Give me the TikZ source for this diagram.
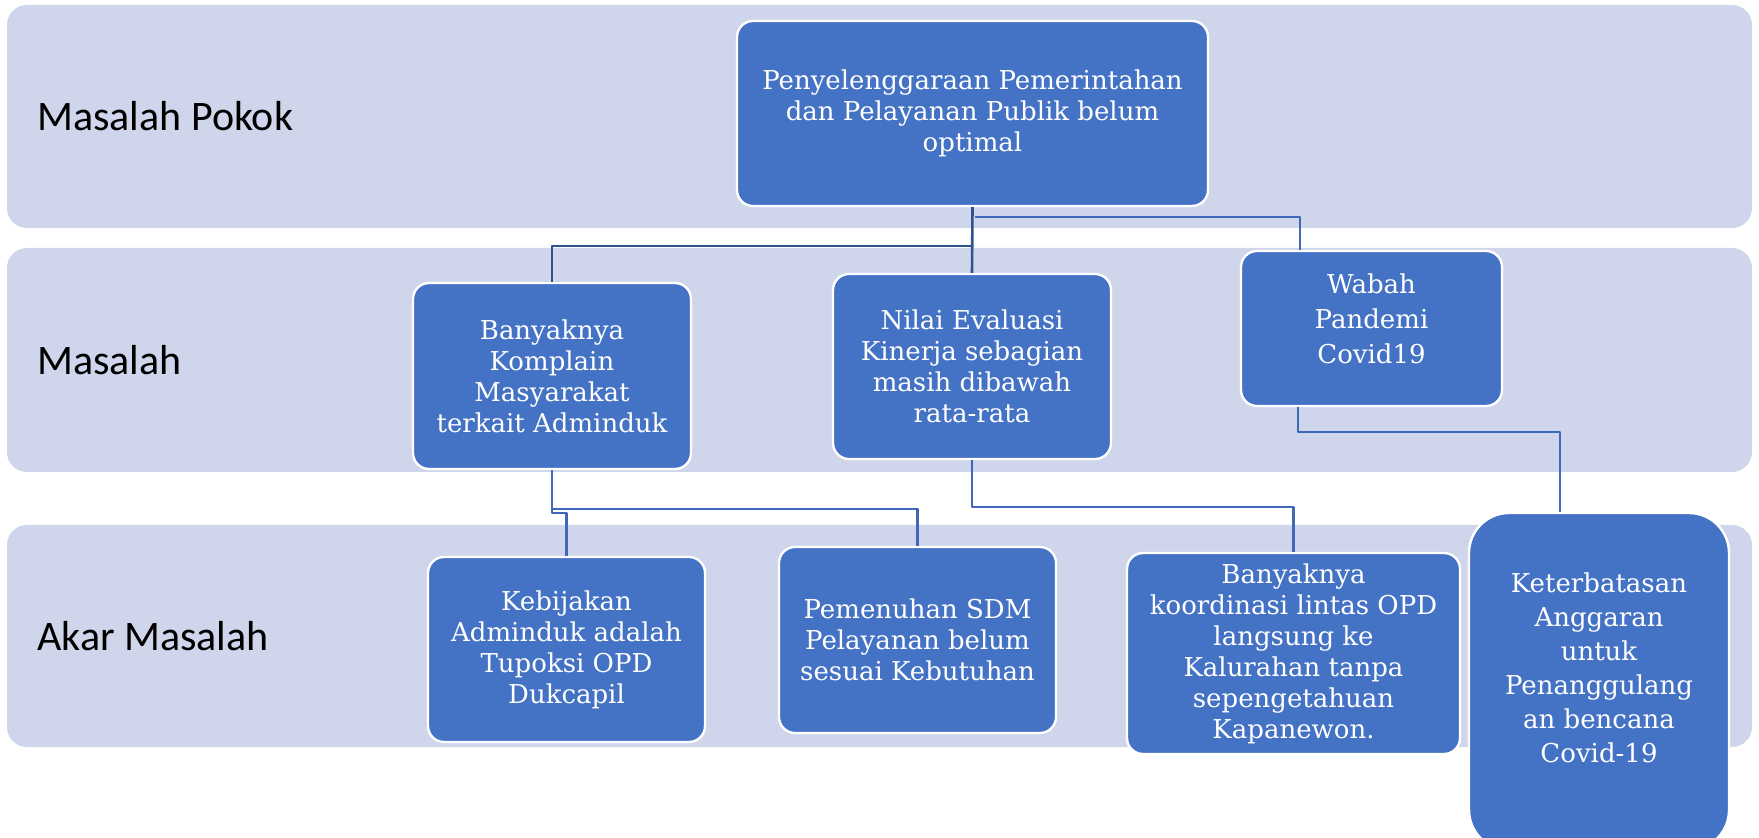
\documentclass[tikz,border=0pt]{standalone}
\usepackage{fontspec}
\setmainfont{DejaVu Serif}
\newfontfamily\labfont{Carlito}
\definecolor{bandgray}{HTML}{CFD5EA}
\definecolor{boxblue}{HTML}{4472C4}
\definecolor{linkblue}{HTML}{3F68B8}
\definecolor{linkdark}{HTML}{2F528F}

\begin{document}
\begin{tikzpicture}[line cap=round,line join=round,x=0.5pt,y=-0.5pt,
    probbox/.style={draw=white,line width=1.2pt,fill=boxblue,rounded corners=8pt,text=white,
      align=center,inner sep=2pt,font=\fontsize{13}{15.5}\selectfont},
    conn/.style={draw=linkblue,line width=1.3pt,line cap=butt}]
  \useasboundingbox (0,0) rectangle (1759,838);
  % bands
  \foreach \n/\t/\b/\lab in {1/5/228/Masalah Pokok,2/248/472/Masalah,3/525/747/Akar Masalah}{
    \fill[bandgray,rounded corners=10pt] (7,\t) rectangle (1752,\b);
    \node[anchor=west,inner sep=0pt,font=\labfont\fontsize{21}{25}\selectfont] (lab\n) at (37,{(\t+\b)/2}) {\lab};
  }
  % boxes
  \node[probbox,minimum width=235.5pt,minimum height=92.5pt] (pokok) at (972.5,113.5)
    {Penyelenggaraan Pemerintahan\\dan Pelayanan Publik belum\\optimal};
  \node[probbox,minimum width=139pt,minimum height=93pt] (komplain) at (552,376)
    {Banyaknya\\Komplain\\Masyarakat\\terkait Adminduk};
  \node[probbox,minimum width=139pt,minimum height=92.5pt] (nilai) at (972,366.5)
    {Nilai Evaluasi\\Kinerja sebagian\\masih dibawah\\rata-rata};
  \node[probbox,minimum width=130.5pt,minimum height=77.5pt,font=\fontsize{13}{17.5}\selectfont] (wabah) at (1371.5,328.5)
    {Wabah\\Pandemi\\Covid19\rule[-10pt]{0pt}{10pt}};
  \node[probbox,minimum width=138.5pt,minimum height=92.5pt] (kebijakan) at (566.5,649.5)
    {Kebijakan\\Adminduk adalah\\Tupoksi OPD\\Dukcapil};
  \node[probbox,minimum width=138.5pt,minimum height=93pt] (pemenuhan) at (917.5,640)
    {Pemenuhan SDM\\Pelayanan belum\\sesuai Kebutuhan};
  \node[probbox,minimum width=166.5pt,minimum height=100.5pt] (koordinasi) at (1293.5,653.5)
    {Banyaknya\\koordinasi lintas OPD\\langsung ke\\Kalurahan tanpa\\sepengetahuan\\Kapanewon.};
  \node[probbox,rounded corners=20pt,minimum width=130pt,minimum height=168.5pt,font=\fontsize{13}{17}\selectfont] (keterbatasan) at (1599,681.5)
    {Keterbatasan\\Anggaran\\untuk\\Penanggulang\\an bencana\\Covid-19\rule[-14pt]{0pt}{14pt}};
  % connectors
  \draw[conn,draw=linkdark] (pokok.south) -- (nilai.north);
  \draw[conn,draw=linkdark] (pokok.south) ++(0,39) -| (komplain.north);
  \draw[conn] (pokok.south) ++(2,10) -| ([xshift=-35.75pt]wabah.north);
  \draw[conn] (komplain.south) -- ++(0,43) -| (kebijakan.north);
  \draw[conn] (komplain.south) -- ++(0,39) -| (pemenuhan.north);
  \draw[conn] (nilai.south) -- ++(0,47) -| (koordinasi.north);
  \draw[conn] ([xshift=-36.75pt]wabah.south) -- ++(0,25) -| ([xshift=-19.5pt]keterbatasan.north);
\end{tikzpicture}
\end{document}
